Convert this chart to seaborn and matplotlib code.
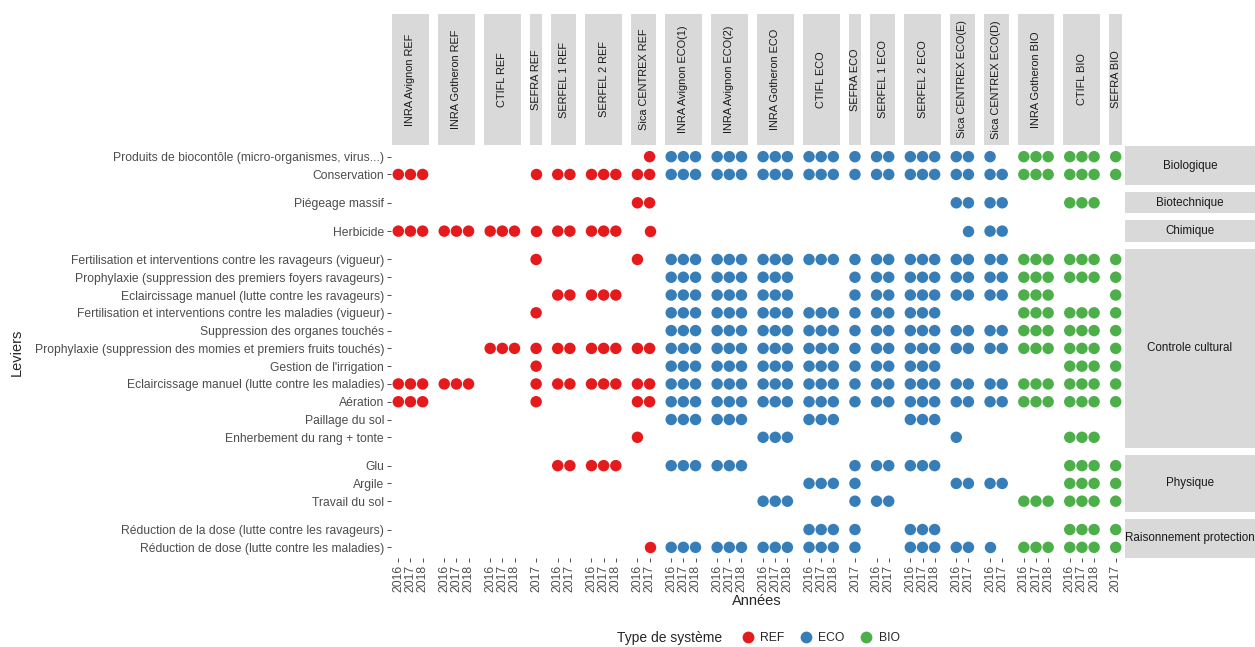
import matplotlib
matplotlib.use("Agg")
import matplotlib.pyplot as plt
from matplotlib.lines import Line2D
import pandas as pd
import seaborn as sns

# facets (columns) : system name, type and years observed
systems = ['INRA Avignon REF', 'INRA Gotheron REF', 'CTIFL REF', 'SEFRA REF', 'SERFEL 1 REF',
           'SERFEL 2 REF', 'Sica CENTREX REF', 'INRA Avignon ECO(1)', 'INRA Avignon ECO(2)',
           'INRA Gotheron ECO', 'CTIFL ECO', 'SEFRA ECO', 'SERFEL 1 ECO', 'SERFEL 2 ECO',
           'Sica CENTREX ECO(E)', 'Sica CENTREX ECO(D)', 'INRA Gotheron BIO', 'CTIFL BIO', 'SEFRA BIO']
system_types = ['REF'] * 7 + ['ECO'] * 9 + ['BIO'] * 3
Y3 = ['2016', '2017', '2018']
Y2 = ['2016', '2017']
Y1 = ['2017']
system_years = [Y3, Y3, Y3, Y1, Y2, Y3, Y2, Y3, Y3, Y3, Y3, Y1, Y2, Y3, Y2, Y2, Y3, Y3, Y1]

group_names = ['Biologique', 'Biotechnique', 'Chimique', 'Controle cultural', 'Physique',
               'Raisonnement protection']
levers = ['Produits de biocontôle (micro-organismes, virus...)', 'Conservation',
          'Piégeage massif',
          'Herbicide',
          'Fertilisation et interventions contre les ravageurs (vigueur)',
          'Prophylaxie (suppression des premiers foyers ravageurs)',
          'Eclaircissage manuel (lutte contre les ravageurs)',
          'Fertilisation et interventions contre les maladies (vigueur)',
          'Suppression des organes touchés',
          'Prophylaxie (suppression des momies et premiers fruits touchés)',
          "Gestion de l'irrigation",
          'Eclaircissage manuel (lutte contre les maladies)',
          'Aération', 'Paillage du sol', 'Enherbement du rang + tonte',
          'Glu', 'Argile', 'Travail du sol',
          'Réduction de la dose (lutte contre les ravageurs)',
          'Réduction de dose (lutte contre les maladies)']
lever_groups = ['Biologique'] * 2 + ['Biotechnique'] + ['Chimique'] + ['Controle cultural'] * 11 \
    + ['Physique'] * 3 + ['Raisonnement protection'] * 2

# one token per system, one digit per year (1 = lever used)
presence = [
    "000 000 000 0 00 000 01 111 111 111 111 1 11 111 11 10 111 111 1",
    "111 000 000 1 11 111 11 111 111 111 111 1 11 111 11 11 111 111 1",
    "000 000 000 0 00 000 11 000 000 000 000 0 00 000 11 11 000 111 0",
    "111 111 111 1 11 111 01 000 000 000 000 0 00 000 01 11 000 000 0",
    "000 000 000 1 00 000 10 111 111 111 111 1 11 111 11 11 111 111 1",
    "000 000 000 0 00 000 00 111 111 111 000 1 11 111 11 11 111 111 1",
    "000 000 000 0 11 111 00 111 111 111 000 1 11 111 11 11 111 000 1",
    "000 000 000 1 00 000 00 111 111 111 111 1 11 111 00 00 111 111 1",
    "000 000 000 0 00 000 00 111 111 111 111 1 11 111 11 11 111 111 1",
    "000 000 111 1 11 111 11 111 111 111 111 1 11 111 11 11 111 111 1",
    "000 000 000 1 00 000 00 111 111 111 111 1 11 111 00 00 000 111 1",
    "111 111 000 1 11 111 11 111 111 111 111 1 11 111 11 11 111 111 1",
    "111 000 000 1 00 000 11 111 111 111 111 1 11 111 11 11 111 111 1",
    "000 000 000 0 00 000 00 111 111 000 111 0 00 111 00 00 000 000 0",
    "000 000 000 0 00 000 10 000 000 111 000 0 00 000 10 00 000 111 0",
    "000 000 000 0 11 111 00 111 111 000 000 1 11 111 00 00 000 111 1",
    "000 000 000 0 00 000 00 000 000 000 111 1 00 000 11 11 000 111 1",
    "000 000 000 0 00 000 00 000 000 111 000 1 11 000 00 00 111 111 1",
    "000 000 000 0 00 000 00 000 000 000 111 1 00 111 00 00 000 111 1",
    "000 000 000 0 00 000 01 111 111 111 111 1 00 111 11 10 111 111 1",
]
type_colors = {'REF': '#E41A1C', 'ECO': '#377EB8', 'BIO': '#4DAF4A'}

rows = []
for i, lev in enumerate(levers):
    tokens = presence[i].split()
    for j, s in enumerate(systems):
        for k, flag in enumerate(tokens[j]):
            if flag == '1':
                rows.append(dict(lever=lev, group=lever_groups[i], system=s,
                                 type=system_types[j], year=system_years[j][k]))
df = pd.DataFrame(rows)

sns.set_style('white')
plt.rcParams['font.family'] = ['Liberation Sans', 'DejaVu Sans']

W, H = 1255, 647
fig = plt.figure(figsize=(W / 100, H / 100), dpi=100)

L, R, T, B = 391, 1123, 146, 558
gap = 7
col_units = [len(y) + 0.2 for y in system_years]
group_levers = [[l for l, g in zip(levers, lever_groups) if g == gn] for gn in group_names]
row_units = [len(gl) + 0.2 for gl in group_levers]
xu = (R - L - gap * (len(systems) - 1)) / sum(col_units)
yu = (B - T - gap * (len(group_names) - 1)) / sum(row_units)

col_x = []
x = L
for cu in col_units:
    col_x.append((x, cu * xu))
    x += cu * xu + gap
row_y = []
y = T
for ru in row_units:
    row_y.append((y, ru * yu))
    y += ru * yu + gap

strip_col = '#D9D9D9'
txt_col = '#4D4D4D'
fs = 8.7
fs_strip = 7.9

for r, gn in enumerate(group_names):
    y0, h = row_y[r]
    gl = group_levers[r]
    for c, s in enumerate(systems):
        x0, w = col_x[c]
        yrs = system_years[c]
        ax = fig.add_axes([x0 / W, 1 - (y0 + h) / H, w / W, h / H])
        sub = df[(df.group == gn) & (df.system == s)].copy()
        sub['xi'] = sub.year.map(lambda v: yrs.index(v))
        sub['yi'] = sub.lever.map(lambda v: gl.index(v))
        if len(sub):
            sns.scatterplot(data=sub, x='xi', y='yi', hue='type', palette=type_colors,
                            s=68, linewidth=0, legend=False, ax=ax)
        ax.set_xlim(-0.6, len(yrs) - 0.4)
        ax.set_ylim(len(gl) - 0.4, -0.6)
        ax.set_facecolor('none')
        for sp in ax.spines.values():
            sp.set_visible(False)
        ax.set_xlabel('')
        ax.set_ylabel('')
        if c == 0:
            ax.set_yticks(range(len(gl)))
            ax.set_yticklabels(gl)
            ax.tick_params(axis='y', left=True, length=3, width=0.6, color='#333333',
                           labelsize=fs, labelcolor=txt_col, pad=2)
        else:
            ax.set_yticks([])
        if r == len(group_names) - 1:
            ax.set_xticks(range(len(yrs)))
            ax.set_xticklabels(yrs, rotation=90)
            ax.tick_params(axis='x', bottom=True, length=3, width=0.6, color='#333333',
                           labelsize=fs, labelcolor=txt_col, pad=2)
        else:
            ax.set_xticks([])

        if r == 0:
            sax = fig.add_axes([(x0 + 1) / W, 1 - (T - 1) / H, (w - 2) / W, (T - 1 - 14) / H])
            sax.set_facecolor(strip_col)
            sax.set_xticks([])
            sax.set_yticks([])
            for sp in sax.spines.values():
                sp.set_visible(False)
            sax.text(0.5, 0.5, s, rotation=90, ha='center', va='center', fontsize=fs_strip,
                     color='#1A1A1A', transform=sax.transAxes)

    rax = fig.add_axes([1125 / W, 1 - (y0 + h) / H, 130 / W, h / H])
    rax.set_facecolor(strip_col)
    rax.set_xticks([])
    rax.set_yticks([])
    for sp in rax.spines.values():
        sp.set_visible(False)
    rax.text(0.5, 0.5, gn, ha='center', va='center', fontsize=8.4, color='#1A1A1A',
             transform=rax.transAxes)

fig.text(757 / W, 1 - 601 / H, 'Années', ha='center', va='center', fontsize=10.5)
fig.text(17 / W, 1 - 352 / H, 'Leviers', ha='center', va='center', rotation=90, fontsize=10.5)

fig.text(617 / W, 1 - 638 / H, 'Type de système', ha='left', va='center', fontsize=10)
handles = [Line2D([], [], marker='o', linestyle='', markersize=8.5, markeredgewidth=0,
                  color=type_colors[t]) for t in ['REF', 'ECO', 'BIO']]
fig.legend(handles, ['REF', 'ECO', 'BIO'], ncol=3, loc='center left',
           bbox_to_anchor=(730 / W, 1 - 638 / H), frameon=False, fontsize=fs,
           handletextpad=0.4, columnspacing=1.2, handlelength=1.2)

plt.savefig('out.png', dpi=100)
